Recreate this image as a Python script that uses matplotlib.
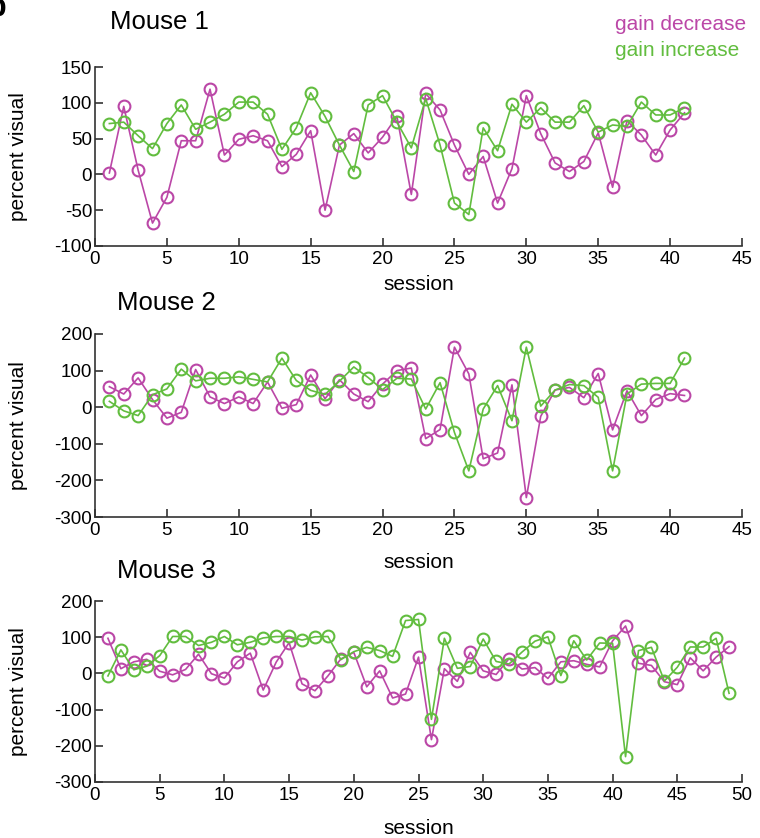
import matplotlib
matplotlib.use("Agg")
import matplotlib.pyplot as plt

plt.rcParams['font.family'] = ['Liberation Sans', 'DejaVu Sans']
plt.rcParams['axes.unicode_minus'] = False

# Session-wise percent visual, per mouse
m1_decrease = [2, 95, 6, -68, -32, 47, 47, 119, 27, 49, 54, 47, 11, 28, 61, -50, 41, 57, 30, 52, 81, -28,
               113, 90, 41, 0, 25, -40, 8, 110, 57, 16, 4, 18, 58, -18, 75, 55, 27, 62, 86]
m1_increase = [71, 73, 54, 36, 71, 97, 63, 73, 84, 101, 101, 84, 35, 65, 114, 81, 41, 4, 97, 110, 73, 37,
               106, 41, -40, -56, 65, 33, 98, 73, 93, 73, 73, 96, 59, 69, 67, 101, 83, 83, 93]

m2_decrease = [56, 36, 80, 21, -30, -14, 103, 28, 10, 28, 10, 69, -3, 7, 88, 23, 75, 36, 15, 63, 100, 107,
               -86, -61, 164, 91, -141, -125, 61, -247, -25, 47, 54, 26, 92, -62, 45, -23, 21, 37, 32]
m2_increase = [16, -10, -23, 34, 50, 104, 72, 79, 79, 83, 76, 69, 134, 73, 46, 35, 71, 110, 81, 48, 79, 77,
               -5, 67, -69, -174, -5, 59, -37, 164, 3, 47, 62, 59, 27, -174, 36, 63, 65, 65, 134]

m3_decrease = [97, 13, 32, 39, 6, -4, 11, 53, -1, -13, 32, 56, -46, 31, 85, -29, -48, -7, 40, 58, -37, 7,
               -68, -57, 45, -183, 13, -22, 58, 7, -3, 41, 12, 16, -14, 32, 35, 25, 18, 90, 131, 28, 22,
               -23, -31, 43, 7, 45, 74]
m3_increase = [-7, 65, 10, 20, 49, 102, 102, 77, 86, 102, 79, 86, 98, 102, 102, 92, 101, 102, 38, 60, 72, 63,
               47, 146, 149, -127, 97, 14, 19, 95, 33, 26, 59, 89, 101, -6, 90, 37, 84, 83, -230, 63, 72,
               -21, 17, 73, 73, 97, -55]

titles = ["Mouse 1", "Mouse 2", "Mouse 3"]
ylims = [(-100, 150), (-300, 200), (-300, 200)]
yticks = [list(range(-100, 151, 50)), list(range(-300, 201, 100)), list(range(-300, 201, 100))]
xmax = [45, 45, 50]

C_DEC = "#bb47a7"
C_INC = "#62bd3f"

W, H = 760, 838
fig = plt.figure(figsize=(W / 100, H / 100), dpi=100)

# axes boxes in pixels: (left, top, right, bottom)
boxes = [(95, 67, 742, 246), (95, 334, 742, 517), (95, 601, 742, 782)]
title_pos = [(110, 22), (117, 303), (117, 571)]
xlabel_y = [285, 562, 828]
data = [(m1_decrease, m1_increase), (m2_decrease, m2_increase), (m3_decrease, m3_increase)]

for i, (l, t, r, b) in enumerate(boxes):
    ax = fig.add_axes([l / W, 1 - b / H, (r - l) / W, (b - t) / H])
    dec, inc = data[i]
    xs_d = range(1, len(dec) + 1)
    xs_i = range(1, len(inc) + 1)
    ax.plot(xs_d, dec, color=C_DEC, lw=1.2, marker='o', ms=8.5, mfc='none', mew=1.5)
    ax.plot(xs_i, inc, color=C_INC, lw=1.2, marker='o', ms=8.5, mfc='none', mew=1.5)
    ax.set_xlim(0, xmax[i])
    ax.set_ylim(*ylims[i])
    ax.set_xticks(range(0, xmax[i] + 1, 5))
    ax.set_yticks(yticks[i])
    for s in ('top', 'right'):
        ax.spines[s].set_visible(False)
    for s in ('left', 'bottom'):
        ax.spines[s].set_color('#333333')
        ax.spines[s].set_linewidth(1.2)
    ax.tick_params(direction='in', length=6, width=1.2, color='#333333', labelsize=13.5)
    ax.tick_params(axis='x', pad=3.5)
    ax.tick_params(axis='y', pad=2)
    ax.set_xlabel("session", fontsize=15, va='center')
    ax.xaxis.set_label_coords(0.5, (b - xlabel_y[i]) / (b - t))
    ax.set_ylabel("percent visual", fontsize=15, va='center')
    ax.yaxis.set_label_coords((19 - l) / (r - l), 0.5)
    tx, ty = title_pos[i]
    fig.text(tx / W, 1 - ty / H, titles[i], fontsize=18.5, ha='left', va='center')

fig.text(615 / W, 1 - 25 / H, "gain decrease", color=C_DEC, fontsize=15, ha='left', va='center')
fig.text(615 / W, 1 - 50 / H, "gain increase", color=C_INC, fontsize=15, ha='left', va='center')
fig.text(-12 / W, 1 - 8 / H, "b", fontsize=22, fontweight='bold', ha='left', va='center')

fig.savefig("out.png", dpi=100)
